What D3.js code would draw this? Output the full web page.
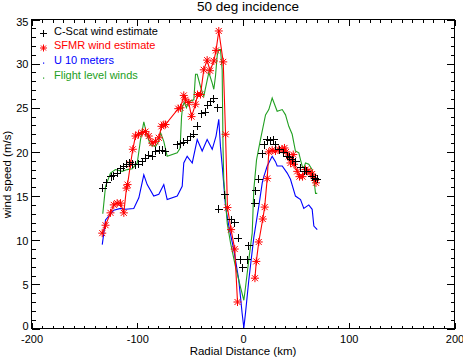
<!DOCTYPE html>
<html><head><meta charset="utf-8">
<script src="https://cdn.jsdelivr.net/npm/d3@7"></script>
<style>body{margin:0;background:#fff}svg{display:block}text{font-family:"Liberation Sans",Arial,sans-serif}</style>
</head><body><svg id="c" width="463" height="358"></svg>
<script>
const titleText = "50 deg incidence";
const xLabel = "Radial Distance (km)";
const yLabel = "wind speed (m/s)";
const xTicks = [-200,-100,0,100,200];
const xTickLabels = ["-200","-100","0","100","200"];
const yTicks = [0,5,10,15,20,25,30,35];
const yTickLabels = ["0","5","10","15","20","25","30","35"];
const legendLabels = ["C-Scat wind estimate","SFMR wind estimate","U 10 meters","Flight level winds"];

const cscatX = [-132.7,-128.8,-124.8,-122.0,-119.1,-115.8,-112.7,-109.7,-107.3,-104.5,-101.7,-98.5,-95.3,-92.2,-89.1,-85.9,-82.3,-79.4,-76.4,-73.3,-62.2,-59.1,-56.0,-52.8,-49.6,-46.5,-43.3,-38.8,-35.9,-33.3,-30.4,-27.6,-24.1,-22.9,-17.3,-11.1,-7.8,-4.5,-2.6,-0.2,3.8,5.5,10.9,12.1,14.9,18.4,20.3,22.9,26.0,29.1,30.7,34.5,38.6,41.8,44.4,46.8,50.1,54.8,57.7,60.5,65.4,68.1,70.4];
const cscatY = [15.9,16.5,17.2,17.3,17.6,18.1,18.3,18.6,18.75,18.6,18.55,18.6,18.9,19.3,19.6,19.5,20.1,20.2,20.2,20.0,20.8,20.9,21.1,21.3,21.7,22.0,22.9,24.3,24.5,25.3,25.7,26.0,25.0,13.5,15.15,12.3,12.0,10.2,7.8,6.9,7.8,9.4,14.2,15.6,16.9,19.8,20.8,21.4,21.25,21.4,20.8,20.25,19.9,19.5,19.4,19.1,18.9,18.2,17.8,17.8,17.2,17.0,16.9];

const sfmrX = [-133.1,-130.0,-125.3,-122.2,-119.0,-115.8,-112.7,-110.2,-109.2,-106.4,-104.2,-101.7,-98.8,-95.3,-92.2,-89.1,-85.9,-82.7,-79.6,-77.1,-74.9,-73.3,-61.2,-59.1,-56.0,-54.4,-51.3,-48.7,-44.9,-43.0,-40.2,-37.1,-33.9,-31.2,-27.6,-25.5,-22.9,-18.7,-16.5,-14.7,-11.3,-7.8,-5.2,11.3,12.6,14.9,18.7,20.5,22.9,24.4,27.6,30.7,33.9,37.1,39.2,40.7,43.3,44.9,47.5,48.2,51.3,53.4,56.3,59.1,61.3,63.4,65.4,67.1,69.0];
const sfmrY = [10.8,11.7,13.1,14.0,14.2,14.2,13.1,15.9,16.3,18.6,20.3,21.8,22.0,22.2,22.3,21.8,21.0,21.2,21.6,22.9,23.1,23.1,24.9,25.0,26.4,25.9,25.6,24.0,25.4,26.5,26.5,29.3,30.4,29.2,30.3,31.5,33.7,30.2,22.0,13.7,11.2,9.0,3.0,5.7,7.6,9.8,12.4,13.75,17.0,20.0,20.2,20.1,20.3,20.3,20.45,20.0,19.5,18.75,19.7,18.6,17.8,17.2,17.2,18.0,17.8,17.7,17.5,17.05,16.5];
// the SFMR line is interrupted between these two passes (eye gap)
const sfmrGapAfter = -5.2;

const u10X = [-133.1,-132.2,-130.0,-122.2,-115.8,-111.1,-103.3,-98.5,-93.8,-90.6,-84.4,-79.6,-74.9,-71.7,-62.2,-57.5,-56.0,-52.8,-48.0,-43.3,-38.6,-33.9,-29.1,-25.5,-22.9,-21.3,-19.4,-16.5,-13.4,-8.7,-4.0,-0.8,0.8,2.4,5.5,10.2,13.4,14.9,18.2,19.7,22.9,27.6,30.7,32.3,37.1,41.8,44.9,49.6,54.4,57.5,62.2,65.4,67.0,70.2];
const u10Y = [9.5,10.3,12.3,13.4,13.6,13.5,13.6,14.8,17.4,16.3,15.0,15.2,16.3,14.6,15.0,16.1,18.75,19.5,18.75,21.4,20.1,21.4,20.3,21.8,23.7,20.6,18.1,13.8,11.6,8.9,5.5,1.7,0.05,1.8,5.5,10.3,12.7,13.8,16.5,17.2,18.4,19.5,18.9,18.4,18.4,17.6,16.9,15.0,14.6,13.6,14.0,13.5,11.6,11.2];

const flightX = [-132.6,-130.0,-125.3,-120.6,-114.2,-109.5,-104.8,-100.0,-96.9,-93.8,-90.6,-87.5,-82.7,-79.6,-78.0,-74.9,-71.7,-62.2,-59.5,-58.1,-57.0,-55.5,-53.5,-51.3,-46.5,-44.9,-43.3,-40.2,-37.1,-32.3,-29.1,-27.6,-26.0,-24.4,-22.9,-21.3,-19.7,-18.9,-18.2,-14.9,-11.8,-7.1,-2.4,0.8,2.4,5.5,8.7,10.2,12.8,16.5,21.3,24.4,27.6,32.3,37.1,40.2,43.3,46.5,49.6,52.8,54.4,56.0,57.5,59.1,62.2,65.4,67.0,68.6,70.2];
const flightY = [13.0,16.1,17.6,18.0,17.8,18.0,18.1,18.75,21.4,23.4,21.8,20.8,20.6,21.2,22.2,21.2,19.5,19.9,20.4,24.0,25.2,25.6,25.0,25.7,25.9,28.8,28.8,27.4,26.3,29.0,27.8,27.1,28.6,30.9,31.6,31.6,29.3,20.6,16.9,11.9,9.7,7.0,4.7,3.2,4.7,7.8,10.8,15.7,19.1,21.4,24.2,24.8,26.1,24.6,24.8,24.2,22.9,22.0,20.1,19.9,19.1,18.4,18.2,18.75,18.6,18.0,16.9,15.3,15.3];

const RED="#ff0000", BLUE="#0000ff", GREEN="#22a022";
const svg = d3.select("#c");
svg.append("rect").attr("width",463).attr("height",358).attr("fill","#fff");
const x = d3.scaleLinear().domain([-200,200]).range([31.5,454.5]);
const y = d3.scaleLinear().domain([0,35]).range([328.5,19.5]);

function styleAxis(g){ g.select(".domain").remove(); g.selectAll("line").attr("stroke","#000").attr("shape-rendering","crispEdges"); g.selectAll("text").attr("font-size",11).attr("fill","#000").attr("font-family","Liberation Sans, Arial, sans-serif"); }
const xMinor = d3.range(-200,201,10), yMinor = d3.range(0,36,1);
svg.append("g").attr("transform",`translate(0,${y(0)})`).call(d3.axisBottom(x).tickValues(xMinor).tickSize(-3).tickFormat("")).call(styleAxis);
svg.append("g").attr("transform",`translate(0,${y(0)})`).call(d3.axisBottom(x).tickValues(xTicks).tickSize(-6).tickPadding(7).tickFormat((d,i)=>xTickLabels[i])).call(styleAxis);
svg.append("g").attr("transform",`translate(0,${y(35)})`).call(d3.axisTop(x).tickValues(xMinor).tickSize(-3).tickFormat("")).call(styleAxis);
svg.append("g").attr("transform",`translate(0,${y(35)})`).call(d3.axisTop(x).tickValues(xTicks).tickSize(-6).tickFormat("")).call(styleAxis);
svg.append("g").attr("transform",`translate(${x(-200)},0)`).call(d3.axisLeft(y).tickValues(yMinor).tickSize(-4).tickFormat("")).call(styleAxis);
svg.append("g").attr("transform",`translate(${x(-200)},0)`).call(d3.axisLeft(y).tickValues(yTicks).tickSize(-8).tickPadding(3).tickFormat((d,i)=>yTickLabels[i]))
  .call(g=>{styleAxis(g); g.selectAll("text").attr("dy",d=>d===0?"0.12em":(d===35?"0.55em":"0.38em"));});
svg.append("g").attr("transform",`translate(${x(200)},0)`).call(d3.axisRight(y).tickValues(yMinor).tickSize(-4).tickFormat("")).call(styleAxis);
svg.append("g").attr("transform",`translate(${x(200)},0)`).call(d3.axisRight(y).tickValues(yTicks).tickSize(-8).tickFormat("")).call(styleAxis);
svg.append("rect").attr("x",x(-200)).attr("y",y(35)).attr("width",x(200)-x(-200)).attr("height",y(0)-y(35)).attr("fill","none").attr("stroke","#000").attr("shape-rendering","crispEdges");

const line = d3.line().x(d=>x(d[0])).y(d=>y(d[1]));
const zip = (a,b)=>a.map((v,i)=>[v,b[i]]);
svg.append("path").datum(zip(u10X,u10Y)).attr("d",line).attr("fill","none").attr("stroke",BLUE).attr("stroke-width",1.1);
svg.append("path").datum(zip(flightX,flightY)).attr("d",line).attr("fill","none").attr("stroke",GREEN).attr("stroke-width",1.1);
const sfmrPts = zip(sfmrX,sfmrY);
const sfmrA = sfmrPts.filter(d=>d[0]<=sfmrGapAfter), sfmrB = sfmrPts.filter(d=>d[0]>sfmrGapAfter);
[sfmrA,sfmrB].forEach(seg=>svg.append("path").datum(seg).attr("d",line).attr("fill","none").attr("stroke",RED).attr("stroke-width",1.1));

const starPath = "M-4,0H4M0,-4V4M-3,-3L3,3M-3,3L3,-3";
const plusPath = "M-4,0H4M0,-4V4";
svg.append("g").selectAll("path").data(sfmrPts).join("path").attr("transform",d=>`translate(${x(d[0])},${y(d[1])})`).attr("d",starPath).attr("stroke",RED).attr("fill","none");
svg.append("g").selectAll("path").data(zip(cscatX,cscatY)).join("path").attr("transform",d=>`translate(${x(d[0])},${y(d[1])})`).attr("d",plusPath).attr("stroke","#000").attr("fill","none").attr("shape-rendering","crispEdges");

// legend
const legColors = ["#000",RED,BLUE,GREEN];
const legY = [31,45.5,60.5,75.5];
const lg = svg.append("g");
legendLabels.forEach((t,i)=>{
  lg.append("text").attr("x",54).attr("y",legY[i]).attr("dy","0.36em").attr("font-size",11).attr("fill",legColors[i]).text(t);
});
lg.append("path").attr("transform",`translate(43.5,${legY[0]+2.5})`).attr("d","M-3.5,0H3.5M0,-3.5V3.5").attr("stroke","#000").attr("shape-rendering","crispEdges");
lg.append("path").attr("transform",`translate(43.5,${legY[1]+2.5})`).attr("d","M-3.5,0H3.5M0,-3.5V3.5M-2.5,-2.5L2.5,2.5M-2.5,2.5L2.5,-2.5").attr("stroke",RED);
lg.append("rect").attr("x",43).attr("y",legY[2]+2).attr("width",1.2).attr("height",1.2).attr("fill",BLUE);
lg.append("rect").attr("x",43).attr("y",legY[3]+2).attr("width",1.2).attr("height",1.2).attr("fill",GREEN);

svg.append("text").attr("x",248).attr("y",10.5).attr("text-anchor","middle").attr("font-size",13.5).text(titleText);
svg.append("text").attr("x",243).attr("y",355).attr("text-anchor","middle").attr("font-size",11.5).text(xLabel);
svg.append("text").attr("transform","translate(11,174.5) rotate(-90)").attr("text-anchor","middle").attr("font-size",11.5).text(yLabel);
</script></body></html>
